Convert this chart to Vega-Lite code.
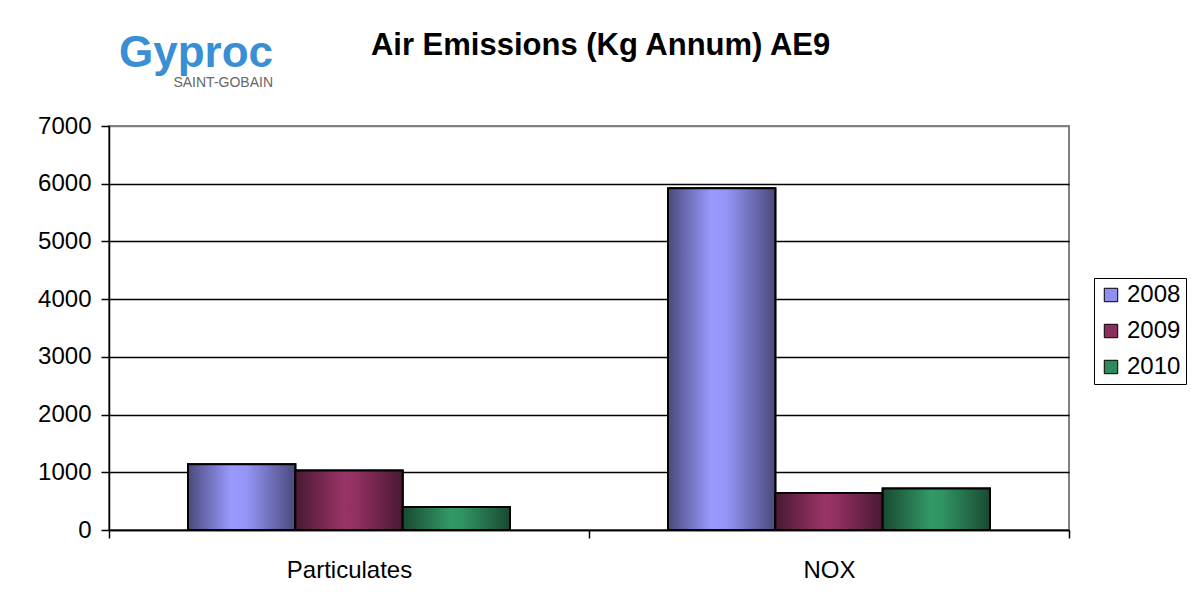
{
  "$schema": "https://vega.github.io/schema/vega-lite/v6.json",
  "background": "white",
  "padding": {"left": 36, "top": 30, "right": 3, "bottom": 5},
  "title": {
    "text": "Air Emissions (Kg Annum) AE9",
    "font": "Liberation Sans",
    "fontSize": 31,
    "fontWeight": "bold",
    "color": "black",
    "anchor": "middle",
    "offset": 4,
    "dx": -11,
    "dy": 35
  },
  "vconcat": [
    {
      "width": 960,
      "height": 404,
      "title": {
        "text": "Gyproc",
        "subtitle": "SAINT-GOBAIN",
        "anchor": "start",
        "frame": "group",
        "align": "right",
        "font": "Liberation Sans",
        "fontSize": 44,
        "fontWeight": "bold",
        "color": "#3a8fd4",
        "subtitleFont": "Liberation Sans",
        "subtitleFontSize": 14,
        "subtitleColor": "#666666",
        "subtitlePadding": 0,
        "dx": 164,
        "offset": 24
      },
      "data": {
        "values": [
          {"category": "Particulates", "year": "2008", "value": 1140},
          {"category": "Particulates", "year": "2009", "value": 1030},
          {"category": "Particulates", "year": "2010", "value": 400},
          {"category": "NOX", "year": "2008", "value": 5920},
          {"category": "NOX", "year": "2009", "value": 640},
          {"category": "NOX", "year": "2010", "value": 720}
        ]
      },
      "encoding": {
        "x": {
          "field": "category",
          "type": "nominal",
          "sort": ["Particulates", "NOX"],
          "scale": {"paddingInner": 0, "paddingOuter": 0},
          "axis": {
            "title": null,
            "labelAngle": 0,
            "tickBand": "extent",
            "tickSize": 8,
            "labelPadding": 20,
            "grid": false
          }
        },
        "xOffset": {
          "field": "year",
          "type": "nominal",
          "sort": ["2008", "2009", "2010"],
          "scale": {"domain": ["2008", "2009", "2010"], "paddingInner": 0, "paddingOuter": 0.736}
        },
        "y": {
          "field": "value",
          "type": "quantitative",
          "scale": {"domain": [0, 7000], "nice": false},
          "axis": {
            "title": null,
            "format": "d",
            "values": [0, 1000, 2000, 3000, 4000, 5000, 6000, 7000],
            "grid": true,
            "gridColor": {"condition": {"test": "datum.value >= 7000", "value": "#808080"}, "value": "black"},
            "gridWidth": 1.5,
            "tickSize": 8,
            "labelPadding": 10
          }
        }
      },
      "layer": [
        {
          "mark": {"type": "bar", "stroke": "black", "strokeWidth": 2},
          "encoding": {
            "color": {
              "field": "year",
              "type": "nominal",
              "sort": ["2008", "2009", "2010"],
              "scale": {"domain": ["2008", "2009", "2010"], "range": ["#8f8fef", "#8a2e5c", "#2e8a5c"]},
              "legend": {
                "title": null,
                "orient": "none",
                "legendX": 985,
                "legendY": 152,
                "strokeColor": "black",
                "padding": 5,
                "symbolType": "square",
                "symbolSize": 180,
                "symbolStrokeColor": "black",
                "symbolStrokeWidth": 1,
                "symbolOpacity": 1,
                "labelFont": "Liberation Sans",
                "labelFontSize": 24,
                "labelColor": "black",
                "labelOffset": 4,
                "rowPadding": 12
              }
            }
          }
        },
        {
          "transform": [{"filter": "datum.year === '2008'"}],
          "mark": {
            "type": "bar", "stroke": "black", "strokeWidth": 2,
            "color": {"x1": 0, "y1": 0, "x2": 1, "y2": 0, "gradient": "linear", "stops": [
              {"offset": 0, "color": "#4a4a7c"},
              {"offset": 0.4, "color": "#9999ff"},
              {"offset": 0.55, "color": "#9494f6"},
              {"offset": 1, "color": "#4a4a7c"}
            ]}
          }
        },
        {
          "transform": [{"filter": "datum.year === '2009'"}],
          "mark": {
            "type": "bar", "stroke": "black", "strokeWidth": 2,
            "color": {"x1": 0, "y1": 0, "x2": 1, "y2": 0, "gradient": "linear", "stops": [
              {"offset": 0, "color": "#4a1932"},
              {"offset": 0.45, "color": "#993366"},
              {"offset": 0.55, "color": "#943163"},
              {"offset": 1, "color": "#4a1932"}
            ]}
          }
        },
        {
          "transform": [{"filter": "datum.year === '2010'"}],
          "mark": {
            "type": "bar", "stroke": "black", "strokeWidth": 2,
            "color": {"x1": 0, "y1": 0, "x2": 1, "y2": 0, "gradient": "linear", "stops": [
              {"offset": 0, "color": "#194a32"},
              {"offset": 0.45, "color": "#339966"},
              {"offset": 0.55, "color": "#319463"},
              {"offset": 1, "color": "#194a32"}
            ]}
          }
        }
      ]
    }
  ],
  "config": {
    "view": {"stroke": "#808080", "strokeWidth": 2},
    "axis": {
      "domainColor": "black",
      "domainWidth": 1.5,
      "tickColor": "black",
      "tickWidth": 1.5,
      "labelFont": "Liberation Sans",
      "labelFontSize": 24,
      "labelColor": "black"
    }
  }
}
